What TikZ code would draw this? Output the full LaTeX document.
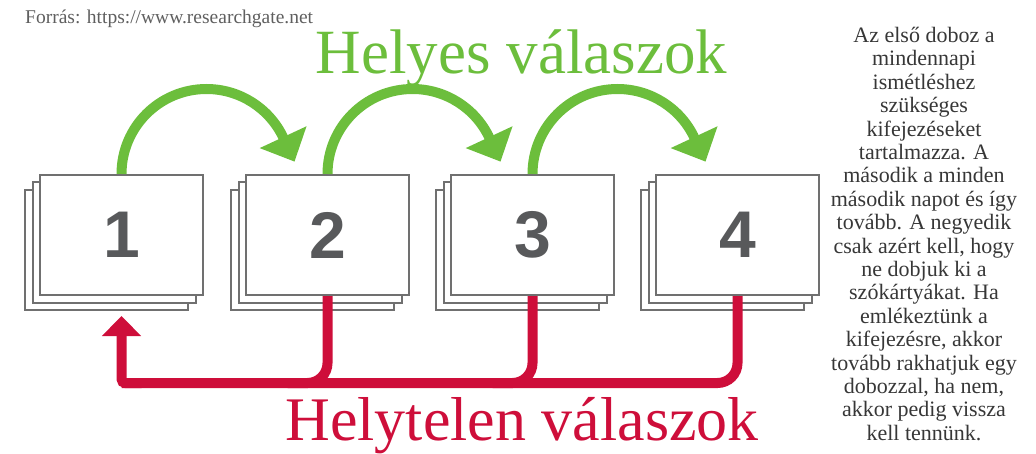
\documentclass[tikz,border=0pt]{standalone}
\usepackage{fontspec}
\setmainfont{Liberation Serif}
\newfontfamily\digitfont{Liberation Sans}
\usetikzlibrary{arrows.meta,shadows}

\definecolor{rightgreen}{RGB}{108,190,60}
\definecolor{wrongred}{RGB}{206,14,58}
\definecolor{boxgray}{RGB}{112,112,112}
\definecolor{digitgray}{RGB}{88,89,91}
\definecolor{notegray}{RGB}{55,55,55}

\tikzset{
  card/.style={draw=boxgray,line width=2pt,fill=white,minimum width=163pt,minimum height=120pt,inner sep=0pt,
    font=\digitfont\bfseries\fontsize{66}{66}\selectfont,text=digitgray,
    double copy shadow={shadow xshift=-7.5pt,shadow yshift=-7.5pt,draw=boxgray,fill=white,line width=2pt}},
  rightarr/.style={draw=rightgreen,line width=10pt,-{Triangle[width=50pt,length=27pt]}},
  wrongline/.style={draw=wrongred,line width=10pt},
}

\begin{document}
\begin{tikzpicture}[x=1pt,y=1pt]

	\useasboundingbox (0,0) rectangle (1036,453);

	% the four boxes of cards
	\node[card] (b1) at (121.5,218) {1};
	\node[card] (b2) at (327.5,218) {2};
	\node[card] (b3) at (532.5,218) {3};
	\node[card] (b4) at (737.5,218) {4};

	% right answers go one box further
	\draw[rightarr] (b1.north) arc[start angle=180,end angle=25,radius=85] -- ++(-65:26);
	\draw[rightarr] (b2.north) arc[start angle=180,end angle=25,radius=85] -- ++(-65:26);
	\draw[rightarr] (b3.north) arc[start angle=180,end angle=25,radius=85] -- ++(-65:26);
	\node[anchor=base,text=rightgreen,font=\fontsize{63}{63}\selectfont] (right) at (521.5,379) {Helyes válaszok};

	% wrong answers go back to the first box
	\coordinate (low) at (0,70);
	\coordinate (back) at ([yshift=-20pt]b1.south);
	\draw[wrongline,rounded corners=20pt] (b2.south) |- ([xshift=-40pt]b2.south |- low);
	\draw[wrongline,rounded corners=20pt] (b3.south) |- ([xshift=-40pt]b3.south |- low);
	\draw[wrongline,rounded corners=20pt] (b4.south) |- (b1.south |- low);
	\draw[wrongline,rounded corners=4pt,-{Triangle[width=38pt,length=20pt]}] ([xshift=20pt]b1.south |- low) -- (b1.south |- low) -- (back);
	\node[anchor=base,text=wrongred,font=\fontsize{62}{62}\selectfont] (wrong) at (522,13) {Helytelen válaszok};

	% source and note
	\node[anchor=base west,inner sep=0pt,text=notegray!80,font=\fontsize{19.5}{19.5}\selectfont] (src) at (25,429) {Forrás: https://www.researchgate.net};
	\node[anchor=north,inner sep=0pt,align=center,text=notegray,font=\fontsize{22}{23.4}\selectfont] (note) at (924,426)
		{Az első doboz a\\mindennapi\\ismétléshez\\szükséges\\kifejezéseket\\tartalmazza. A\\második a minden\\második napot és így\\tovább. A negyedik\\csak azért kell, hogy\\ne dobjuk ki a\\szókártyákat. Ha\\emlékeztünk a\\kifejezésre, akkor\\tovább rakhatjuk egy\\dobozzal, ha nem,\\akkor pedig vissza\\kell tennünk.};

\end{tikzpicture}
\end{document}
